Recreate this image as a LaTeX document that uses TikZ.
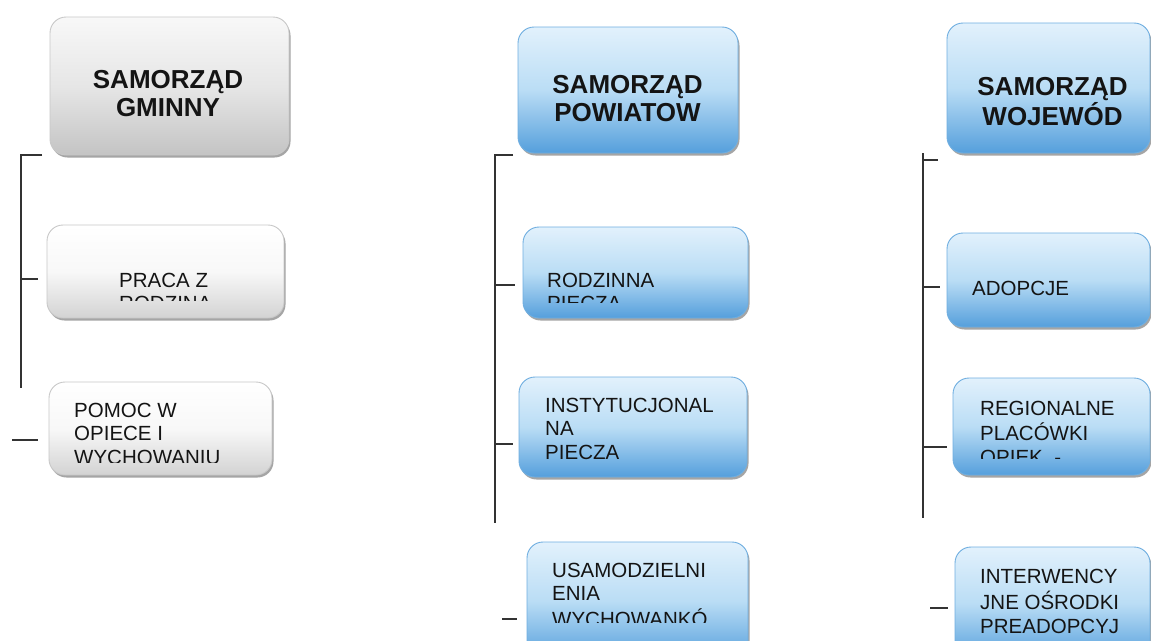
\documentclass[tikz,border=0pt]{standalone}
\usepackage{fontspec}
\setmainfont{Liberation Sans}
\usetikzlibrary{shadows}
\definecolor{bluetop}{HTML}{E2F1FC}
\definecolor{bluemid}{HTML}{BADDF5}
\definecolor{bluebot}{HTML}{559FDC}
\definecolor{blueedge}{HTML}{6FAEE0}
\definecolor{graytop}{HTML}{F8F8F8}
\definecolor{graymid}{HTML}{E6E6E6}
\definecolor{graybot}{HTML}{C4C4C4}
\definecolor{grayedge}{HTML}{C8C8C8}
\definecolor{linecol}{HTML}{333333}
\tikzset{
  boxbase/.style={rectangle, rounded corners=16pt, inner sep=0pt, line width=0.9pt,
    drop shadow={shadow xshift=1.5pt, shadow yshift=-2.5pt, fill=black!50, opacity=0.7}},
  bluebox/.style={boxbase, draw=blueedge, top color=bluetop, bottom color=bluebot, middle color=bluemid},
  grayhead/.style={boxbase, draw=grayedge, top color=graytop, bottom color=graybot, middle color=graymid},
  graybox/.style={boxbase, draw=grayedge, top color=white, bottom color=graybot!75, middle color=graytop},
  headtxt/.style={anchor=north, inner sep=0pt, align=center, font=\fontsize{26}{28}\selectfont\bfseries, text=black!92},
  bodytxt/.style={anchor=north west, inner sep=0pt, align=left, font=\fontsize{20.5}{23.5}\selectfont, text=black!92},
  tree/.style={draw=linecol, line width=1.1pt}
}
\newcommand{\mybox}[6]{% name, style, x1, y1, x2, y2
  \node[#2, minimum width={(#5-#3)*1pt}, minimum height={(#6-#4)*1pt}] (#1) at ({(#3+#5)/2},{(#4+#6)/2}) {};}
\begin{document}
\begin{tikzpicture}[x=1pt,y=-1pt]
\clip (0,0) rectangle (1151,640);
\fill[white] (0,0) rectangle (1151,640);

% ---------- boxes ----------
\mybox{gh}{grayhead}{50}{17}{289}{155}
\mybox{g1}{graybox}{47}{225}{284}{318}
\mybox{g2}{graybox}{49}{382}{272}{475}

\mybox{ph}{bluebox}{518}{27}{738}{153}
\mybox{p1}{bluebox}{523}{227}{748}{318}
\mybox{p2}{bluebox}{519}{377}{747}{477}
\mybox{p3}{bluebox}{527}{542}{748}{660}

\mybox{wh}{bluebox}{947}{23}{1150}{153}
\mybox{w1}{bluebox}{947}{233}{1150}{327}
\mybox{w2}{bluebox}{953}{378}{1150}{475}
\mybox{w3}{bluebox}{955}{547}{1150}{660}

% ---------- heading texts ----------
\node[headtxt] (ght) at (168,70.4) {SAMORZĄD\\GMINNY};
\node[headtxt] (pht) at (627.5,75.4) {SAMORZĄD\\POWIATOW};
\node[headtxt] (wht) at (1052.5,77.4) {SAMORZĄD\\WOJEWÓD};

% ---------- body texts (clipped as printed) ----------
\begin{scope}\clip (40,230) rectangle (290,300);
\node[bodytxt] (g1t) at (119,270.5) {\strut PRACA Z\\\strut RODZINA};
\end{scope}
\begin{scope}\clip (40,385) rectangle (290,462);
\node[bodytxt] (g2t) at (74,400.5) {\strut POMOC W\\\strut OPIECE I\\\strut WYCHOWANIU};
\end{scope}

\begin{scope}\clip (520,230) rectangle (750,302);
\node[bodytxt] (p1t) at (547,270.5) {\strut RODZINNA\\\strut PIECZA};
\end{scope}
\node[bodytxt] (p2t) at (545,395.5) {\strut INSTYTUCJONAL\\\strut NA\\\strut PIECZA};
\begin{scope}\clip (520,545) rectangle (750,622);
\node[bodytxt] (p3t) at (552,560.5) {\strut USAMODZIELNI\\\strut ENIA\\\strut WYCHOWANKÓ};
\end{scope}

\node[bodytxt] (w1t) at (972,278.5) {\strut ADOPCJE};
\begin{scope}\clip (950,380) rectangle (1151,458);
\node[bodytxt] (w2t) at (980,398.5) {\strut REGIONALNE\\\strut PLACÓWKI\\\strut OPIEK \ -};
\end{scope}
\node[bodytxt] (w3t) at (980,566.5) {\strut INTERWENCY\\\strut JNE OŚRODKI\\\strut PREADOPCYJ};

% ---------- tree lines ----------
\coordinate (ga) at (21,155); \coordinate (gb) at (21,388);
\coordinate (gt1) at (42,155); \coordinate (gm1) at (21,279); \coordinate (gt2) at (38,279);
\coordinate (gs1) at (12,440); \coordinate (gs2) at (38,440);
\draw[tree] (gt1) -- (ga) -- (gb);
\draw[tree] (gm1) -- (gt2);
\draw[tree] (gs1) -- (gs2);

\coordinate (pa) at (495,155); \coordinate (pb) at (495,523);
\coordinate (pt1) at (513,155); \coordinate (pm1) at (495,285); \coordinate (pt2) at (515,285);
\coordinate (pm2) at (495,444); \coordinate (pt3) at (513,444);
\coordinate (ps1) at (502,619); \coordinate (ps2) at (517,619);
\draw[tree] (pt1) -- (pa) -- (pb);
\draw[tree] (pm1) -- (pt2);
\draw[tree] (pm2) -- (pt3);
\draw[tree] (ps1) -- (ps2);

\coordinate (wa) at (923,153); \coordinate (wb) at (923,518);
\coordinate (wm0) at (923,160); \coordinate (wt0) at (938,160);
\coordinate (wm1) at (923,287); \coordinate (wt1) at (940,287);
\coordinate (wm2) at (923,447); \coordinate (wt2) at (947,447);
\coordinate (ws1) at (930,608); \coordinate (ws2) at (948,608);
\draw[tree] (wa) -- (wb);
\draw[tree] (wm0) -- (wt0);
\draw[tree] (wm1) -- (wt1);
\draw[tree] (wm2) -- (wt2);
\draw[tree] (ws1) -- (ws2);
\end{tikzpicture}
\end{document}
